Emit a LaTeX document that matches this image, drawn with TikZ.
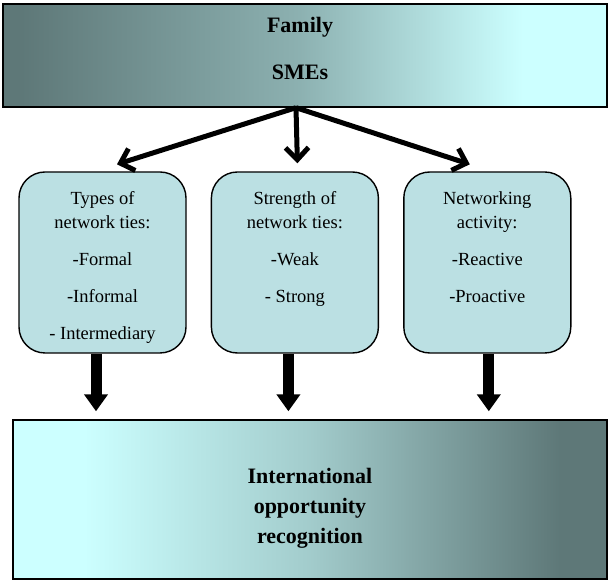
\documentclass[tikz,border=0pt]{standalone}
\usepackage{fontspec}
\setmainfont{Liberation Serif}
\usepackage{xcolor}
\usetikzlibrary{arrows.meta}
\usetikzlibrary{calc}
\usetikzlibrary{positioning}

\definecolor{slate}{RGB}{94,120,120}
\definecolor{paleCyan}{RGB}{204,255,255}
\definecolor{tieFill}{RGB}{187,224,227}
\colorlet{midSlate}{paleCyan!42!slate}
\colorlet{midCyan}{paleCyan!62!slate}
\pgfdeclarehorizontalshading{famshade}{100bp}{color(0bp)=(slate); color(26.5bp)=(slate); color(49.5bp)=(midSlate); color(68bp)=(paleCyan); color(100bp)=(paleCyan)}
\pgfdeclarehorizontalshading{recogshade}{100bp}{color(0bp)=(paleCyan); color(31bp)=(paleCyan); color(50bp)=(midCyan); color(71bp)=(slate); color(100bp)=(slate)}

\begin{document}
\begin{tikzpicture}
  [
    x = 1pt, y = 1pt,
    box/.style = {rectangle, draw, line width = 1.4pt, inner sep = 0pt},
    famBox/.style = {box, shade, shading = famshade, minimum width = 604pt, minimum height = 103pt},
    recogBox/.style = {box, shade, shading = recogshade, minimum width = 594pt, minimum height = 159pt},
    tieBox/.style = {box, fill = tieFill, rounded corners = 26pt,
                     minimum width = 167pt, minimum height = 181pt},
    titleText/.style = {align = center, inner sep = 0pt, font = \rmfamily\fontsize{22}{26}\selectfont\bfseries},
    tieText/.style = {align = center, inner sep = 0pt, anchor = north, font = \rmfamily\fontsize{18.5}{24}\selectfont},
    spread/.style = {line width = 5pt, -{Straight Barb[length = 12pt, width = 23pt]}},
    push/.style = {line width = 11pt, -{Triangle[length = 17pt, width = 23pt]}},
  ]
  \useasboundingbox (0,0) rectangle (608,580);

  \node[famBox] (family) at (305,524.5) {};
  \node[titleText] (family_txt) at ($(family.center)+(-5,7)$) {Family\\[21pt]SMEs};

  \node[tieBox] (types) at (102.5,317.5) {};
  \node[tieBox] [right = 24pt of types] (strength) {};
  \node[tieBox] [right = 24pt of strength] (activity) {};

  \node[tieText] [below = 20pt of types.north] (types_txt)
      {Types of\\network ties:\\[13pt]-Formal\\[13pt]-Informal\\[13pt]- Intermediary};
  \node[tieText] [below = 20pt of strength.north] (strength_txt)
      {Strength of\\network ties:\\[13pt]-Weak\\[13pt]- Strong};
  \node[tieText] [below = 20pt of activity.north] (activity_txt)
      {Networking\\activity:\\[13pt]-Reactive\\[13pt]-Proactive};

  \node[recogBox] (recog) at (310,80.5) {};
  \node[titleText] (recog_txt) at ($(recog.center)+(0,-8.5)$)
      {International\\[4pt]opportunity\\[4pt]recognition};

  \draw[spread] ($(family.south)+(-9,0)$) -- ($(types.north)+(14.5,7)$);
  \draw[spread] ($(family.south)+(-9,0)$) -- ($(strength.north)+(2.5,8)$);
  \draw[spread] ($(family.south)+(-9,0)$) -- ($(activity.north)+(-17.5,7)$);

  \draw[push] ($(types.south)+(-6.5,0)$) -- ($(types.south |- recog.north)+(-6.5,8)$);
  \draw[push] ($(strength.south)+(-6.5,0)$) -- ($(strength.south |- recog.north)+(-6.5,8)$);
  \draw[push] ($(activity.south)+(1.5,0)$) -- ($(activity.south |- recog.north)+(1.5,8)$);
\end{tikzpicture}
\end{document}
